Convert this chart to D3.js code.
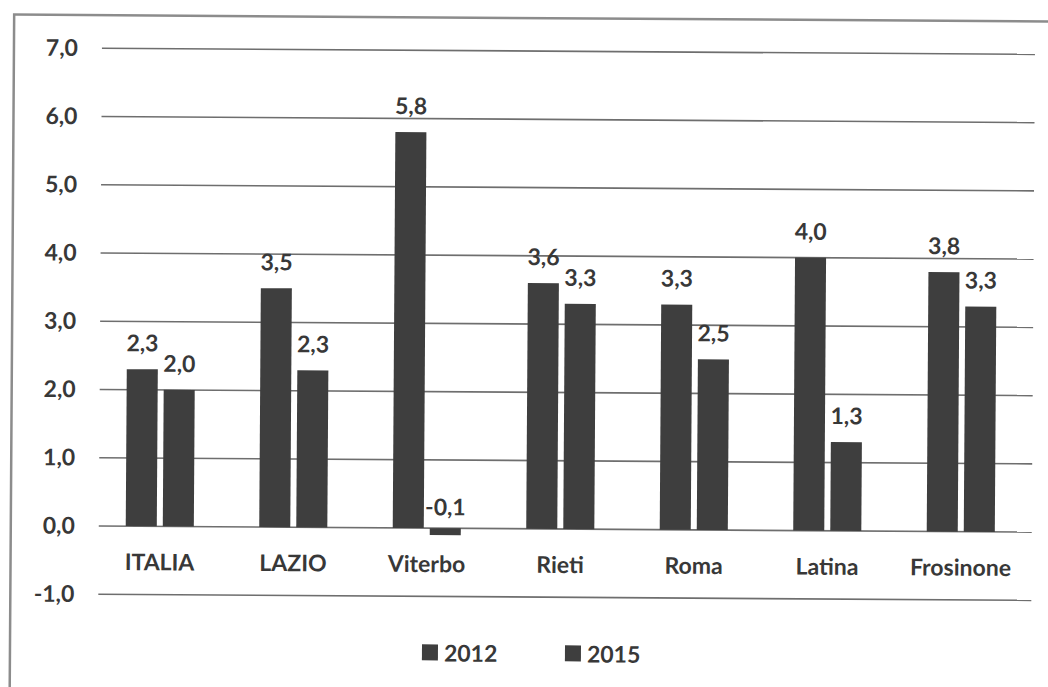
<!DOCTYPE html>
<html>
<head>
<meta charset="utf-8">
<script src="https://cdn.jsdelivr.net/npm/d3@7/dist/d3.min.js"></script>
<style>
  html, body { margin: 0; padding: 0; background: #fff; }
  svg { display: block; }
  text { font-family: Lato, "Open Sans", sans-serif; fill: #383838; }
</style>
</head>
<body>
<svg id="chart" width="1048" height="687"></svg>
<script>
const categories = ["ITALIA", "LAZIO", "Viterbo", "Rieti", "Roma", "Latina", "Frosinone"];
const seriesNames = ["2012", "2015"];
const values2012 = [2.3, 3.5, 5.8, 3.6, 3.3, 4.0, 3.8];
const values2015 = [2.0, 2.3, -0.1, 3.3, 2.5, 1.3, 3.3];
const yTicks = [-1, 0, 1, 2, 3, 4, 5, 6, 7];

const seriesValues = [values2012, values2015];
const W = 1048, H = 687;
const FONT = "Lato, 'Open Sans', sans-serif";
const FS = 23, FW = "bold", TXT = "#3a3a3a";
const svg = d3.select("#chart");

// slight tilt of the scanned original
const g = svg.append("g").attr("transform", `rotate(0.38 ${W/2} ${H/2})`);

// frame
g.append("rect")
  .attr("x", 12).attr("y", 18)
  .attr("width", W + 40).attr("height", H + 40)
  .attr("fill", "none").attr("stroke", "#8c8c8c").attr("stroke-width", 2.5);

const y = d3.scaleLinear().domain([-1, 7]).range([597, 51]);
const x0 = d3.scaleBand().domain(categories).range([94.25, 1028.75]).paddingInner(0.49).paddingOuter(0.245);
const x1 = d3.scaleBand().domain(seriesNames).range([0, x0.bandwidth()]).paddingInner(0.162);
const fmt = v => d3.format(".1f")(v).replace(".", ",").replace("−", "-");

// gridlines
g.append("g").selectAll("line").data(yTicks).join("line")
  .attr("x1", 100).attr("x2", 1033)
  .attr("y1", d => y(d)).attr("y2", d => y(d))
  .attr("stroke", "#6e6e6e").attr("stroke-width", 1.6);

// y axis labels
const yAxis = d3.axisLeft(y).tickValues(yTicks).tickSize(0).tickPadding(0).tickFormat(fmt);
const ya = g.append("g").attr("transform", "translate(76,0)").call(yAxis);
ya.select(".domain").remove();
ya.selectAll("text").attr("font-size", FS).attr("fill", TXT)
  .style("font-family", FONT).attr("font-weight", FW);

// bars
const groups = g.append("g").selectAll("g").data(categories).join("g")
  .attr("transform", d => `translate(${x0(d)},0)`);

groups.selectAll("rect")
  .data((c, i) => seriesNames.map((s, k) => ({ s, v: seriesValues[k][i] })))
  .join("rect")
  .attr("x", d => x1(d.s))
  .attr("width", x1.bandwidth())
  .attr("y", d => y(Math.max(0, d.v)))
  .attr("height", d => Math.abs(y(d.v) - y(0)))
  .attr("fill", "#3e3e3e");

groups.selectAll("text.val")
  .data((c, i) => seriesNames.map((s, k) => ({ s, v: seriesValues[k][i] })))
  .join("text")
  .attr("class", "val")
  .attr("x", d => x1(d.s) + x1.bandwidth() / 2)
  .attr("y", d => d.v >= 0 ? y(d.v) - 18 : y(0) - 13)
  .attr("text-anchor", "middle")
  .attr("font-size", FS).attr("font-weight", FW).attr("fill", TXT)
  .text(d => fmt(d.v));

// category labels
const xAxis = d3.axisBottom(x0).tickSize(0).tickPadding(0);
const xa = g.append("g").attr("transform", `translate(0,${y(0) + 44})`).call(xAxis);
xa.select(".domain").remove();
xa.selectAll("text").attr("font-size", FS).attr("fill", TXT).attr("dy", 0)
  .style("font-family", FONT).attr("font-weight", FW);

// legend
const legendX = [424, 567];
const leg = g.append("g").selectAll("g").data(seriesNames).join("g")
  .attr("transform", (d, i) => `translate(${legendX[i]},653)`);
leg.append("rect").attr("x", 0).attr("y", -8).attr("width", 16).attr("height", 16).attr("fill", "#3e3e3e");
leg.append("text").attr("x", 22).attr("y", 9).attr("font-size", FS).attr("font-weight", FW).attr("fill", TXT).text(d => d);
</script>
</body>
</html>
